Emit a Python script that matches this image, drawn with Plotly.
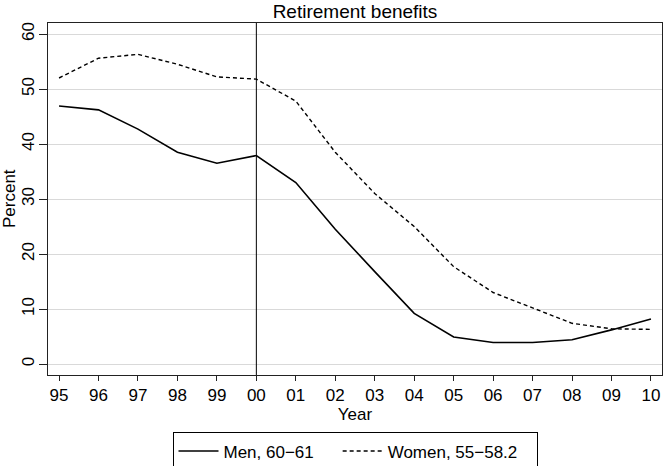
import plotly.graph_objects as go

years = ["95", "96", "97", "98", "99", "00", "01", "02", "03", "04", "05", "06", "07", "08", "09", "10"]
men = [46.9, 46.2, 42.7, 38.5, 36.5, 37.9, 33.0, 24.5, 16.8, 9.2, 4.9, 3.9, 3.9, 4.4, 6.2, 8.2]
women = [52.0, 55.6, 56.3, 54.5, 52.2, 51.8, 47.8, 38.5, 31.0, 25.0, 17.7, 13.0, 10.2, 7.4, 6.4, 6.3]
y_ticks = [0, 10, 20, 30, 40, 50, 60]
ref_year = "00"

xs = list(range(len(years)))
font = "Liberation Sans, Arial, Helvetica, sans-serif"

fig = go.Figure()
fig.add_trace(go.Scatter(x=xs, y=men, mode="lines", name="Men, 60\u221261" + "\u00a0" * 4,
                         line=dict(color="black", width=1.6)))
fig.add_trace(go.Scatter(x=xs, y=women, mode="lines", name="Women, 55\u221258.2" + "\u00a0" * 3,
                         line=dict(color="black", width=1.4, dash="4px,3px")))

fig.add_vline(x=years.index(ref_year), line=dict(color="black", width=1))

fig.add_annotation(text="Percent", xref="paper", yref="paper", x=0, y=0.5,
                   xshift=-39, textangle=-90, showarrow=False,
                   xanchor="center", yanchor="middle", font=dict(size=17))

fig.update_layout(
    width=663, height=466,
    margin=dict(l=48, r=1, t=23, b=91, autoexpand=False),
    paper_bgcolor="white", plot_bgcolor="white",
    font=dict(family=font, size=17, color="black"),
    title=dict(text="Retirement benefits", x=0.5, xanchor="center", xref="paper",
               y=1 - 11 / 466, yanchor="middle", yref="container",
               font=dict(size=19)),
    showlegend=True,
    legend=dict(orientation="h", x=0.5, xanchor="center", y=-0.163, yanchor="top",
                bordercolor="black", borderwidth=1, font=dict(size=17),
                itemwidth=40, tracegroupgap=0),
)
fig.update_xaxes(range=[-0.28, len(years) - 1 + 0.28], tickvals=xs, ticktext=years,
                 automargin=False,
                 showgrid=False, zeroline=False, showline=True, mirror=True,
                 linecolor="#222", linewidth=1, ticks="outside", ticklen=5, tickcolor="#222",
                 title=dict(text="Year", standoff=2, font=dict(size=17)))
fig.update_yaxes(range=[-2, 62], tickvals=y_ticks, tickangle=-90, automargin=False,
                 showgrid=True, gridcolor="#d9d9d9", gridwidth=1, zeroline=False,
                 showline=True, mirror=True, linecolor="#222", linewidth=1,
                 ticks="outside", ticklen=8, tickcolor="#222", ticklabelstandoff=-2)

fig.write_html("out.html", config={"displayModeBar": False},
               post_script="document.body.style.margin='0';")
